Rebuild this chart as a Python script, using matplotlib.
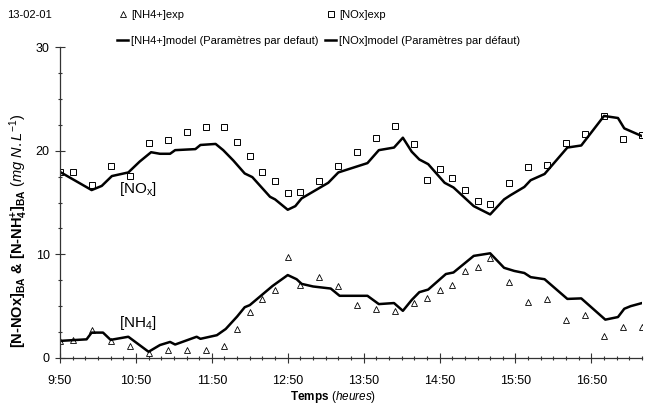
import matplotlib
matplotlib.use('Agg')
import matplotlib.pyplot as plt
from matplotlib.ticker import MultipleLocator

plt.rcParams['font.family'] = ['Liberation Sans', 'DejaVu Sans']
plt.rcParams['mathtext.fontset'] = 'custom'
plt.rcParams['mathtext.rm'] = 'Liberation Sans'
plt.rcParams['mathtext.it'] = 'Liberation Sans:italic'
plt.rcParams['mathtext.bf'] = 'Liberation Sans:bold'

# minutes after 9:50
t_exp = [0, 10, 25, 40, 55, 70, 85, 100, 115, 130, 140, 150, 160, 170, 180, 190, 205, 220,
         235, 250, 265, 280, 290, 300, 310, 320, 330, 340, 355, 370, 385, 400, 415, 430, 445, 460]
nh4_exp = [1.6, 1.7, 2.7, 1.6, 1.2, 0.45, 0.75, 0.8, 0.8, 1.2, 2.8, 4.4, 5.7, 6.6, 9.7, 7.0, 7.8, 6.9,
           5.1, 4.7, 4.5, 5.3, 5.8, 6.6, 7.0, 8.4, 8.8, 9.6, 7.3, 5.4, 5.7, 3.7, 4.1, 2.1, 3.0, 3.0]
nox_exp = [17.9, 17.9, 16.7, 18.5, 17.6, 20.7, 21.0, 21.8, 22.3, 22.3, 20.8, 19.5, 17.9, 17.1, 15.9, 16.0, 17.1, 18.5,
           19.9, 21.2, 22.4, 20.6, 17.2, 18.2, 17.4, 16.2, 15.1, 14.9, 16.9, 18.4, 18.6, 20.7, 21.6, 23.3, 21.1, 21.5]

t_nh4_mod = [0, 21, 25, 34, 40, 54, 70, 79, 87, 91, 108, 111, 124, 131, 140, 146, 150, 168, 180, 187,
             191, 200, 214, 221, 243, 252, 264, 271, 278, 284, 291, 305, 311, 327, 340, 351, 359, 367,
             372, 383, 401, 412, 431, 441, 446, 451, 460]
nh4_mod = [1.65, 1.8, 2.45, 2.45, 1.75, 2.05, 0.6, 1.25, 1.55, 1.3, 2.05, 1.85, 2.2, 2.8, 4.0, 4.9, 5.1, 6.95, 8.0, 7.6,
           7.15, 6.9, 6.7, 6.0, 6.0, 5.2, 5.3, 4.55, 5.6, 6.35, 6.6, 8.1, 8.25, 9.85, 10.1, 8.7, 8.4, 8.2,
           7.8, 7.6, 5.7, 5.75, 3.7, 3.95, 4.75, 5.0, 5.3]

t_nox_mod = [0, 25, 33, 41, 54, 63, 72, 79, 87, 91, 107, 111, 123, 129, 137, 146, 152, 166, 170, 180,
             186, 191, 212, 220, 243, 252, 264, 271, 278, 284, 291, 304, 311, 327, 340, 351, 356, 367,
             372, 383, 401, 412, 430, 441, 446, 460]
nox_mod = [17.95, 16.2, 16.6, 17.55, 17.9, 18.95, 19.85, 19.7, 19.7, 20.05, 20.15, 20.55, 20.65, 20.05, 19.05, 17.8, 17.45, 15.55, 15.3, 14.3,
           14.65, 15.4, 16.9, 17.9, 18.8, 20.05, 20.3, 21.25, 19.9, 19.15, 18.7, 16.9, 16.45, 14.65, 13.85, 15.3, 15.7, 16.5,
           17.15, 17.75, 20.3, 20.5, 23.35, 23.15, 22.15, 21.4]

xtick_pos = [0, 60, 120, 180, 240, 300, 360, 420]
xtick_labels = ['9:50', '10:50', '11:50', '12:50', '13:50', '14:50', '15:50', '16:50']

fig = plt.figure(figsize=(6.48, 4.05), dpi=100)
ax = fig.add_axes([60/648, 1 - 358/405, 582/648, 311/405])

l1, = ax.plot(t_exp, nh4_exp, linestyle='none', marker='^', markersize=4.5,
              markerfacecolor='white', markeredgecolor='black', markeredgewidth=0.6)
l3, = ax.plot(t_exp, nox_exp, linestyle='none', marker='s', markersize=4.2,
              markerfacecolor='white', markeredgecolor='black', markeredgewidth=0.7)
l2, = ax.plot(t_nh4_mod, nh4_mod, color='black', linewidth=1.8)
l4, = ax.plot(t_nox_mod, nox_mod, color='black', linewidth=1.8)

ax.set_xlim(0, 460)
ax.set_ylim(0, 30)
ax.set_xticks(xtick_pos)
ax.set_xticklabels(xtick_labels)
ax.xaxis.set_minor_locator(MultipleLocator(10))
ax.set_yticks([0, 10, 20, 30])
ax.yaxis.set_minor_locator(MultipleLocator(2.5))
ax.tick_params(which='major', direction='inout', length=7, width=0.8, labelsize=9, pad=4)
ax.tick_params(axis='x', which='major', pad=9)
ax.tick_params(which='minor', direction='inout', length=3.5, width=0.8)
ax.tick_params(axis='both', which='both', color='#333333')
for s in ['top', 'right']:
    ax.spines[s].set_visible(False)
for s in ['left', 'bottom']:
    ax.spines[s].set_linewidth(0.9)
    ax.spines[s].set_color('#333333')

ax.set_xlabel(r'Temps $\mathit{(heures)}$', fontsize=8.5, fontweight='bold')
ax.xaxis.set_label_coords(0.47, -0.1)
ax.set_ylabel(r'[N-NOx]$_\mathbf{BA}$ & [N-NH$_\mathbf{4}^\mathbf{+}$]$_\mathbf{BA}$ $\mathit{(mg\ N.L^{-1})}$',
              fontsize=10.5, fontweight='bold')
ax.yaxis.set_label_coords(-0.052, 0.41)

ax.text(47, 16.3, r'[NO$_\mathregular{x}$]', fontsize=11, va='center')
ax.text(47, 3.4, r'[NH$_\mathregular{4}$]', fontsize=11, va='center')

fig.text(7/648, 1 - 15/405, '13-02-01', fontsize=8, va='center')
fig.legend([l1, l2, l3, l4],
           ['[NH4+]exp', '[NH4+]model (Paramètres par defaut)',
            '[NOx]exp', '[NOx]model (Paramètres par défaut)'],
           ncol=2, loc='upper left', bbox_to_anchor=(117/648, 1 - 10/405),
           frameon=False, fontsize=8, handlelength=1.0, handletextpad=0.25,
           columnspacing=0.6, labelspacing=1.45, borderpad=0, borderaxespad=0)

fig.savefig('out.png', dpi=100)
